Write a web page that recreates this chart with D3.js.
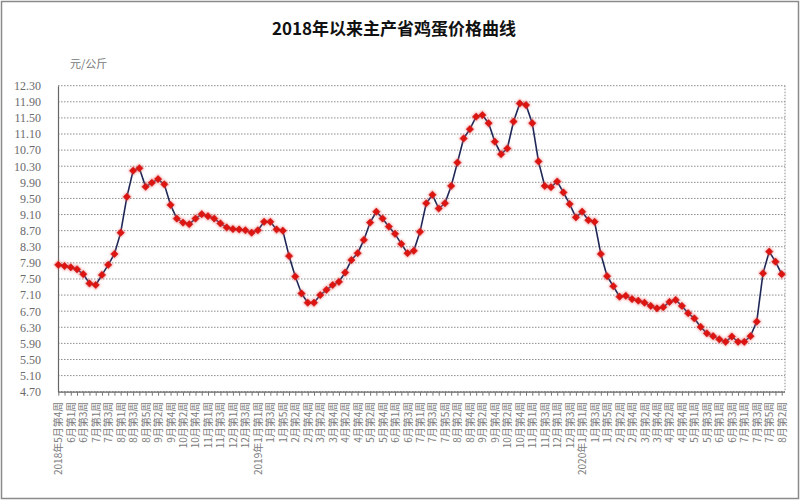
<!DOCTYPE html>
<html>
<head>
<meta charset="utf-8">
<script src="https://cdn.jsdelivr.net/npm/d3@7"></script>
<style>
  html, body { margin: 0; padding: 0; background: #fff; }
  svg { display: block; }
</style>
</head>
<body>
<svg id="chart" width="800" height="500"></svg>
<script>
const title = "2018年以来主产省鸡蛋价格曲线";
const unitLabel = "元/公斤";

const weekLabels = [
  "2018年5月第4周","5月第5周",
  "6月第1周","6月第2周","6月第3周","6月第4周",
  "7月第1周","7月第2周","7月第3周","7月第4周",
  "8月第1周","8月第2周","8月第3周","8月第4周","8月第5周",
  "9月第1周","9月第2周","9月第3周","9月第4周",
  "10月第1周","10月第2周","10月第3周","10月第4周","10月第5周",
  "11月第1周","11月第2周","11月第3周","11月第4周",
  "12月第1周","12月第2周","12月第3周","12月第4周",
  "2019年1月第1周","1月第2周","1月第3周","1月第4周","1月第5周",
  "2月第1周","2月第2周","2月第3周","2月第4周",
  "3月第1周","3月第2周","3月第3周","3月第4周",
  "4月第1周","4月第2周","4月第3周","4月第4周",
  "5月第1周","5月第2周","5月第3周","5月第4周","5月第5周",
  "6月第1周","6月第2周","6月第3周","6月第4周",
  "7月第1周","7月第2周","7月第3周","7月第4周","7月第5周",
  "8月第1周","8月第2周","8月第3周","8月第4周",
  "9月第1周","9月第2周","9月第3周","9月第4周",
  "10月第1周","10月第2周","10月第3周","10月第4周","10月第5周",
  "11月第1周","11月第2周","11月第3周","11月第4周",
  "12月第1周","12月第2周","12月第3周","12月第4周",
  "2020年1月第1周","1月第2周","1月第3周","1月第4周","1月第5周",
  "2月第1周","2月第2周","2月第3周","2月第4周",
  "3月第1周","3月第2周","3月第3周","3月第4周",
  "4月第1周","4月第2周","4月第3周","4月第4周","4月第5周",
  "5月第1周","5月第2周","5月第3周","5月第4周",
  "6月第1周","6月第2周","6月第3周","6月第4周",
  "7月第1周","7月第2周","7月第3周","7月第4周","7月第5周",
  "8月第1周","8月第2周"
];

const prices = [
  7.85,7.82,7.79,7.74,7.62,7.39,7.35,7.60,7.85,8.12,
  8.65,9.54,10.19,10.25,9.79,9.89,9.98,9.85,9.34,9.00,
  8.90,8.86,9.00,9.11,9.06,9.00,8.88,8.78,8.74,8.73,
  8.71,8.65,8.71,8.92,8.92,8.73,8.70,8.07,7.56,7.14,
  6.91,6.91,7.10,7.23,7.35,7.43,7.66,7.97,8.14,8.47,
  8.90,9.17,9.00,8.80,8.62,8.37,8.14,8.20,8.67,9.38,
  9.59,9.25,9.38,9.81,10.39,10.99,11.22,11.53,11.57,11.37,
  10.91,10.60,10.74,11.41,11.86,11.82,11.37,10.42,9.81,9.78,
  9.92,9.65,9.36,9.03,9.17,8.96,8.92,8.12,7.57,7.32,
  7.06,7.08,7.00,6.96,6.91,6.83,6.77,6.80,6.93,6.98,
  6.83,6.65,6.52,6.31,6.15,6.08,6.00,5.94,6.07,5.94,
  5.94,6.08,6.44,7.64,8.18,7.93,7.62
];

const yTicks = [4.70,5.10,5.50,5.90,6.30,6.70,7.10,7.50,7.90,8.30,8.70,9.10,9.50,9.90,10.30,10.70,11.10,11.50,11.90,12.30];

const svg = d3.select("#chart");
const W = 800, H = 500;
const plot = { left: 58, right: 785, top: 85.7, bottom: 391.7 };

const defs = svg.append("defs");
defs.append("filter").attr("id", "glow")
  .attr("x", "-50%").attr("y", "-50%").attr("width", "200%").attr("height", "200%")
  .append("feGaussianBlur").attr("stdDeviation", 1.3);

// outer frame
svg.append("rect")
  .attr("x", 1.5).attr("y", 1.5).attr("width", W - 3).attr("height", H - 3)
  .attr("fill", "#fff").attr("stroke", "#8a8a8a").attr("stroke-width", 1.5);

const x = d3.scalePoint()
  .domain(d3.range(prices.length))
  .range([58.3, 781.7]);

const y = d3.scaleLinear()
  .domain([4.7, 12.3])
  .range([plot.bottom, plot.top]);

// title
svg.append("text")
  .attr("x", 394).attr("y", 35)
  .attr("text-anchor", "middle")
  .attr("font-family", "'Noto Sans CJK SC', sans-serif")
  .attr("font-weight", "bold")
  .attr("font-size", 17)
  .attr("fill", "#111")
  .text(title);

// unit
svg.append("text")
  .attr("x", 70).attr("y", 68)
  .attr("font-family", "'Noto Sans CJK SC', serif")
  .attr("font-size", 11)
  .attr("fill", "#777")
  .text(unitLabel);

// grid lines
svg.append("g")
  .selectAll("line")
  .data(yTicks)
  .join("line")
  .attr("x1", plot.left).attr("x2", plot.right)
  .attr("y1", d => y(d)).attr("y2", d => y(d))
  .attr("stroke", "#8c8c8c")
  .attr("stroke-width", 1)
  .attr("stroke-dasharray", "1.5,1.5");

// right border (dotted)
svg.append("line")
  .attr("x1", plot.right).attr("x2", plot.right)
  .attr("y1", plot.top).attr("y2", plot.bottom)
  .attr("stroke", "#8c8c8c").attr("stroke-dasharray", "1.5,1.5");

// y axis
const yAxis = d3.axisLeft(y)
  .tickValues(yTicks)
  .tickFormat(d3.format(".2f"))
  .tickSize(0)
  .tickPadding(17);
const gy = svg.append("g")
  .attr("transform", `translate(${plot.left},0)`)
  .call(yAxis);
gy.select(".domain").attr("stroke", "#666").attr("stroke-width", 1.2);
gy.selectAll("text")
  .attr("font-family", "'Liberation Serif', 'DejaVu Serif', serif")
  .attr("font-size", 12)
  .attr("fill", "#6a6a6a");

// x axis
const xAxis = d3.axisBottom(x)
  .tickSize(4)
  .tickFormat((d, i) => (i % 2 === 0 ? weekLabels[i] : ""));
const gx = svg.append("g")
  .attr("transform", `translate(0,${plot.bottom})`)
  .call(xAxis);
gx.select(".domain")
  .attr("d", `M${plot.left},0.5H${plot.right}`)
  .attr("stroke", "#666").attr("stroke-width", 1.2);
gx.selectAll(".tick line").attr("stroke", "#777");
gx.selectAll(".tick text")
  .attr("font-family", "'Noto Sans CJK SC', sans-serif")
  .attr("font-size", 10)
  .attr("fill", "#7a7a7a")
  .attr("text-anchor", "end")
  .attr("dy", "0.35em")
  .attr("transform", "translate(0,4) rotate(-90)")
  .attr("x", -6)
  .attr("y", 0);

// line
const line = d3.line()
  .x((d, i) => x(i))
  .y(d => y(d));
svg.append("path")
  .datum(prices)
  .attr("d", line)
  .attr("fill", "none")
  .attr("stroke", "#1e2757")
  .attr("stroke-width", 1.6);

// markers: glow halo + diamond
const sym = d3.symbol().type(d3.symbolSquare);
svg.append("g")
  .attr("filter", "url(#glow)")
  .selectAll("path")
  .data(prices)
  .join("path")
  .attr("d", sym.size(50)())
  .attr("transform", (d, i) => `translate(${x(i)},${y(d)}) rotate(45)`)
  .attr("fill", "#f07070")
  .attr("opacity", 0.6);

svg.append("g")
  .selectAll("path")
  .data(prices)
  .join("path")
  .attr("d", sym.size(26)())
  .attr("transform", (d, i) => `translate(${x(i)},${y(d)}) rotate(45)`)
  .attr("fill", "#dd1410")
  .attr("stroke", "#c41010")
  .attr("stroke-width", 0.5);
</script>
</body>
</html>
